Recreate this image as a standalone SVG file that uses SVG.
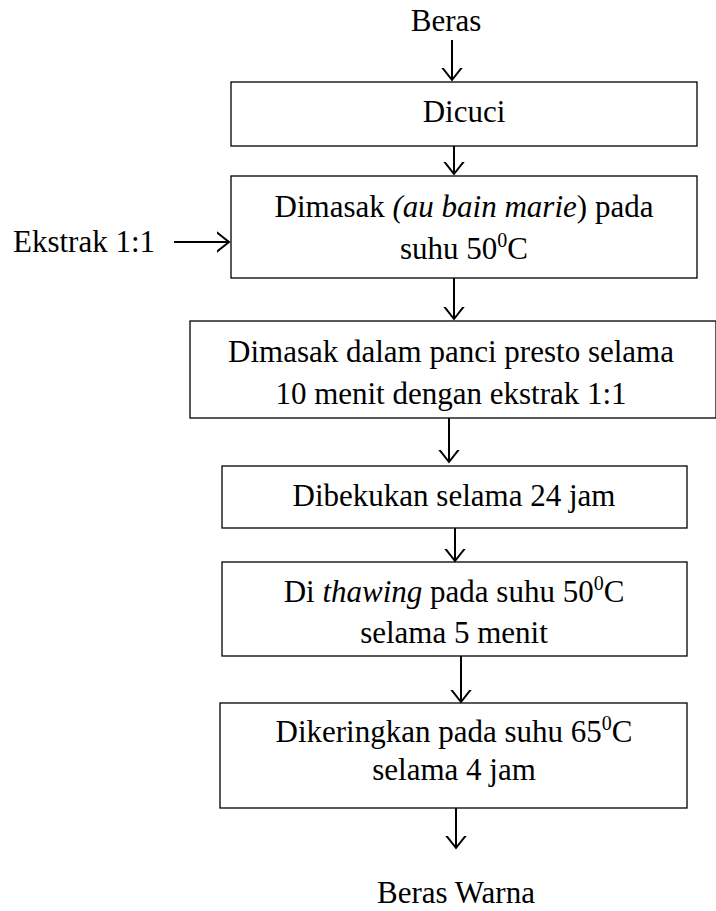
<svg xmlns="http://www.w3.org/2000/svg" width="716" height="911" viewBox="0 0 716 911">
<style>
text{font-family:'Liberation Serif','Times New Roman',Tinos,'DejaVu Serif',serif;font-size:31px;fill:#000;text-anchor:middle}
.i{font-style:italic}
.box{fill:#fff;stroke:#000;stroke-width:1.3}
.con line{stroke:#000;stroke-width:2}
.sup{font-size:20px}
</style>
<defs>
<marker id="ah" markerWidth="24" markerHeight="24" refX="12" refY="12" orient="auto" markerUnits="userSpaceOnUse">
<path d="M-2,1 L12,12 L-2,23" fill="none" stroke="#000" stroke-width="2"/>
</marker>
</defs>
<g id="beras"><text x="446" y="31">Beras</text></g>
<g id="dicuci"><rect class="box" x="231" y="82" width="466" height="64"/><text x="464" y="122">Dicuci</text></g>
<g id="ekstrak"><text x="84" y="252">Ekstrak 1:1</text></g>
<g id="dimasak1"><rect class="box" x="231" y="176" width="466" height="102"/>
<text x="464" y="217">Dimasak <tspan class="i">(au bain marie</tspan>) pada</text>
<text x="464" y="259">suhu 50<tspan class="sup" dy="-12">0</tspan><tspan dy="12">C</tspan></text></g>
<g id="dimasak2"><rect class="box" x="190" y="321" width="526" height="97"/>
<text x="451" y="362">Dimasak dalam panci presto selama</text>
<text x="451" y="404">10 menit dengan ekstrak 1:1</text></g>
<g id="dibekukan"><rect class="box" x="222" y="466" width="465" height="62"/><text x="454" y="506">Dibekukan selama 24 jam</text></g>
<g id="thawing"><rect class="box" x="222" y="562" width="465" height="94"/>
<text x="454" y="602">Di <tspan class="i">thawing</tspan> pada suhu 50<tspan class="sup" dy="-12">0</tspan><tspan dy="12">C</tspan></text>
<text x="454" y="643">selama 5 menit</text></g>
<g id="dikeringkan"><rect class="box" x="220" y="703" width="467" height="105"/>
<text x="454" y="742">Dikeringkan pada suhu 65<tspan class="sup" dy="-12">0</tspan><tspan dy="12">C</tspan></text>
<text x="454" y="780">selama 4 jam</text></g>
<g id="hasil"><text x="456" y="903">Beras Warna</text></g>
<g class="con" id="connectors">
<line x1="452" y1="40" x2="452" y2="80" marker-end="url(#ah)"/>
<line x1="454" y1="146" x2="454" y2="174" marker-end="url(#ah)"/>
<line x1="174" y1="242" x2="229" y2="242" marker-end="url(#ah)"/>
<line x1="454" y1="278" x2="454" y2="319" marker-end="url(#ah)"/>
<line x1="449" y1="418" x2="449" y2="462" marker-end="url(#ah)"/>
<line x1="455" y1="528" x2="455" y2="561" marker-end="url(#ah)"/>
<line x1="461" y1="656" x2="461" y2="702" marker-end="url(#ah)"/>
<line x1="456" y1="808" x2="456" y2="848" marker-end="url(#ah)"/>
</g>
</svg>
